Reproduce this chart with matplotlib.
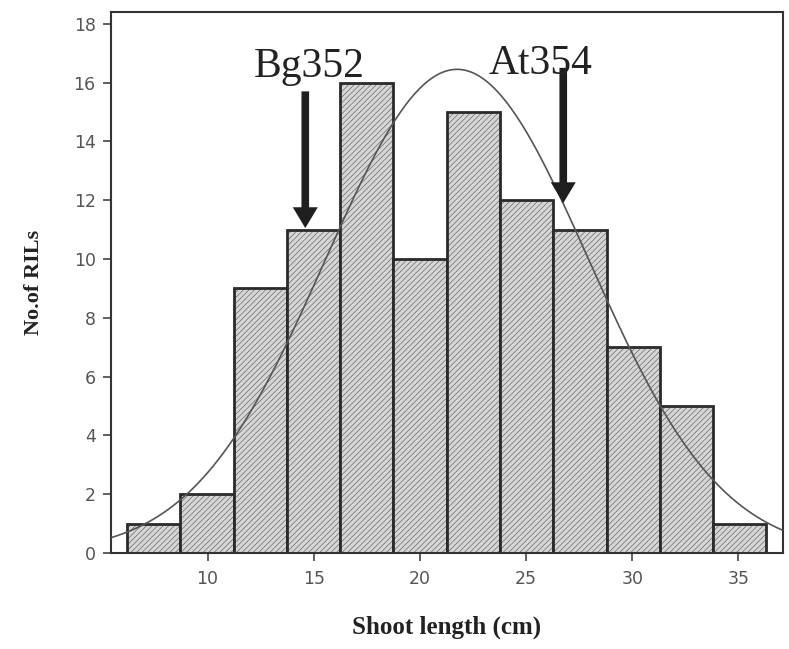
import numpy as np
import matplotlib
matplotlib.use("Agg")
import matplotlib.pyplot as plt
from matplotlib.patches import FancyArrowPatch

# histogram of shoot length for the RILs
binStart = 6.2
binWidth = 2.51
counts = [1, 2, 9, 11, 16, 10, 15, 12, 11, 7, 5, 1]

# fitted normal curve
fitMean = 21.75
fitSd = 6.2
fitPeak = 16.45

# parental lines
parentNames = ["Bg352", "At354"]
parentX = [14.6, 26.75]
arrowTop = [15.7, 16.5]
arrowTip = [11.05, 11.9]
labelX = [14.8, 25.7]
labelY = [16.2, 16.3]

plt.rcParams["hatch.color"] = "#c6c6c6"
plt.rcParams["hatch.linewidth"] = 0.3

fig = plt.figure(figsize=(7.89, 6.49), dpi=100)
ax = fig.add_axes([0.1407, 0.148, 0.8517, 0.8335])

edges = binStart + binWidth * np.arange(len(counts) + 1)
ax.bar(edges[:-1], counts, width=binWidth, align="edge", color="#d5d5d5",
       edgecolor="#2a2a2a", linewidth=2, hatch="//////", zorder=2)

xs = np.linspace(5.4, 37.2, 400)
ax.plot(xs, fitPeak * np.exp(-0.5 * ((xs - fitMean) / fitSd) ** 2),
        color="#555555", linewidth=1.2, zorder=3)

for name, x, y0, y1, lx, ly in zip(parentNames, parentX, arrowTop, arrowTip, labelX, labelY):
    arr = FancyArrowPatch((x, y0), (x, y1),
                          arrowstyle="simple,tail_width=0.55,head_width=1.8,head_length=1.5",
                          mutation_scale=10, color="#1e1e1e", linewidth=0,
                          shrinkA=0, shrinkB=0, zorder=4)
    ax.add_patch(arr)
    ax.text(lx, ly, name, ha="center", va="baseline", fontsize=30,
            family="Liberation Serif", color="#222222", zorder=5)

ax.set_xlim(5.45, 37.1)
ax.set_ylim(0, 18.4)
ax.set_xticks([10, 15, 20, 25, 30, 35])
ax.set_yticks(range(0, 19, 2))
ax.tick_params(direction="out", length=6, width=1.2, colors="#444444",
               labelcolor="#555555", labelsize=12.5)
ax.tick_params(axis="x", pad=6)
ax.tick_params(axis="y", pad=5)
for s in ax.spines.values():
    s.set_color("#333333")
    s.set_linewidth(1.5)

ax.set_xlabel("Shoot length (cm)", family="Liberation Serif", fontweight="bold",
              fontsize=18, color="#222222", labelpad=20)
ax.set_ylabel("No.of RILs", family="Liberation Serif", fontweight="bold",
              fontsize=16, color="#222222", labelpad=21)

fig.savefig("out.png", dpi=100)
